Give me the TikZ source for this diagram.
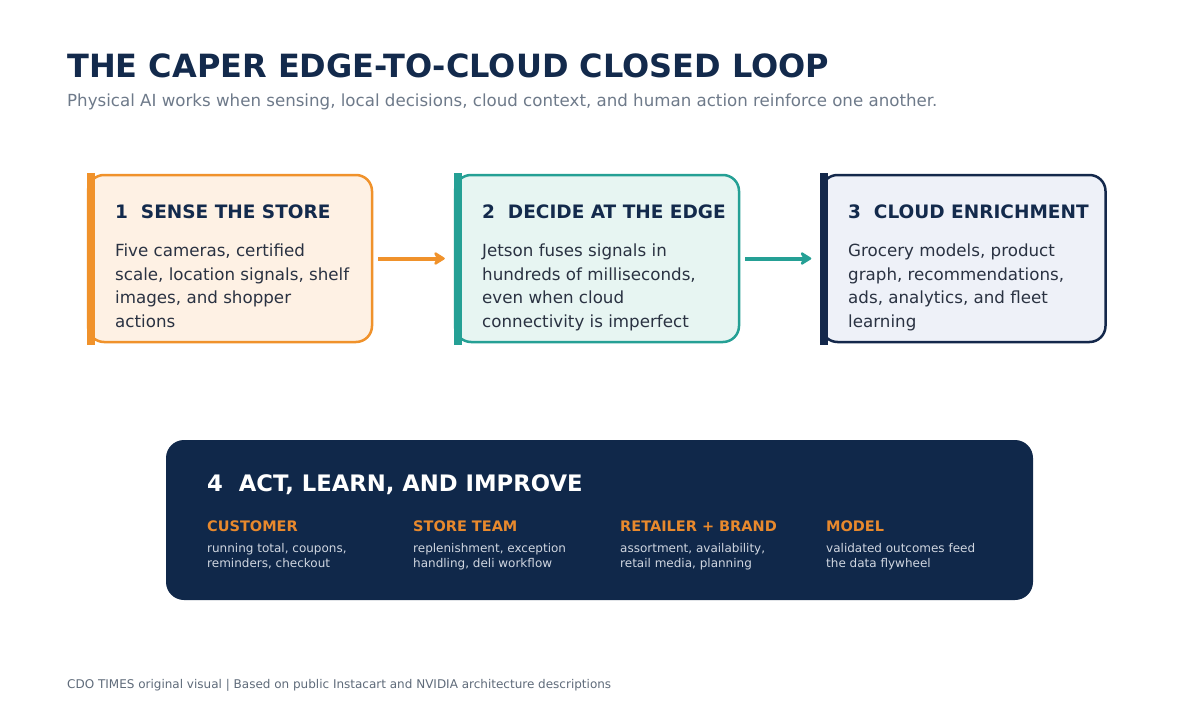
\documentclass[tikz,border=0pt]{standalone}
\usepackage{fontspec}
\setmainfont{DejaVu Sans}
\usetikzlibrary{arrows.meta}
\definecolor{baslikLaci}{HTML}{132A4C}
\definecolor{metinGri}{HTML}{6E7A8A}
\definecolor{notGri}{HTML}{5F6B7A}
\definecolor{yaziKoyu}{HTML}{2A3242}
\definecolor{vurguTuruncu}{HTML}{F0922B}
\definecolor{acikTuruncu}{HTML}{FEF1E4}
\definecolor{vurguTeal}{HTML}{25A095}
\definecolor{acikTeal}{HTML}{E7F5F2}
\definecolor{vurguLaci}{HTML}{14284B}
\definecolor{acikLaci}{HTML}{EEF1F8}
\definecolor{koyuZemin}{HTML}{10284A}
\definecolor{sutunTuruncu}{HTML}{E8892D}
\definecolor{sutunGri}{HTML}{D0D6E0}

\begin{document}
\begin{tikzpicture}[x=1pt,y=-1pt,
  asama/.style 2 args={draw=#1,fill=#2,line width=2.5pt,rounded corners=16pt,
               minimum width=284pt,minimum height=167pt,inner sep=0pt},
  kutuBaslik/.style={anchor=base west,inner sep=0pt,text=baslikLaci,
               font=\bfseries\fontsize{18.5}{22}\selectfont},
  kutuMetin/.style={anchor=base west,inner sep=0pt,align=left,text=yaziKoyu,
               font=\fontsize{16.7}{23.5}\selectfont},
  sutunBaslik/.style={anchor=base west,inner sep=0pt,text=sutunTuruncu,
               font=\bfseries\fontsize{14.5}{17}\selectfont},
  sutunMetin/.style={anchor=base west,inner sep=0pt,align=left,text=sutunGri,
               font=\fontsize{12}{15.5}\selectfont},
  ok/.style={-{Stealth[length=13pt,width=16pt,inset=4pt,round]},line width=4pt,#1,
             shorten <=5pt,shorten >=9pt}]
\useasboundingbox[fill=white] (0,0) rectangle (1200,720);
\node[anchor=base west,inner sep=0pt,text=baslikLaci,font=\bfseries\fontsize{32}{38}\selectfont]
  (baslik) at (67,77) {THE CAPER EDGE-TO-CLOUD CLOSED LOOP};
\node[anchor=base west,inner sep=0pt,text=metinGri,font=\fontsize{16.65}{19}\selectfont]
  (alt) at (67,106) {Physical AI works when sensing, local decisions, cloud context, and human action reinforce one another.};
\node[asama={vurguTuruncu}{acikTuruncu}] (sense) at (230,258.5) {};
\node[asama={vurguTeal}{acikTeal}] (decide) at (597,258.5) {};
\node[asama={vurguLaci}{acikLaci}] (cloud) at (963.5,258.5) {};
\fill[vurguTuruncu] ([yshift=1.25pt]sense.north west) rectangle ([xshift=8pt,yshift=-1.25pt]sense.south west);
\fill[vurguTeal] ([yshift=1.25pt]decide.north west) rectangle ([xshift=8pt,yshift=-1.25pt]decide.south west);
\fill[vurguLaci] ([yshift=1.25pt]cloud.north west) rectangle ([xshift=8pt,yshift=-1.25pt]cloud.south west);
\node[kutuBaslik] (senseB) at (115,218) {1\ \ SENSE THE STORE};
\node[kutuMetin] (senseM) at (115,327) {Five cameras, certified\\scale, location signals, shelf\\images, and shopper\\actions};
\node[kutuBaslik] (decideB) at (482,218) {2\ \ DECIDE AT THE EDGE};
\node[kutuMetin] (decideM) at (482,327) {Jetson fuses signals in\\hundreds of milliseconds,\\even when cloud\\connectivity is imperfect};
\node[kutuBaslik] (cloudB) at (848,218) {3\ \ CLOUD ENRICHMENT};
\node[kutuMetin] (cloudM) at (848,327) {Grocery models, product\\graph, recommendations,\\ads, analytics, and fleet\\learning};
\draw[ok=vurguTuruncu] (sense) -- (decide);
\draw[ok=vurguTeal] (decide) -- (cloud);
\node[fill=koyuZemin,rounded corners=18pt,minimum width=867pt,minimum height=160pt,inner sep=0pt]
  (act) at (599.5,520) {};
\node[anchor=base west,inner sep=0pt,text=white,font=\bfseries\fontsize{22.7}{26}\selectfont]
  (actB) at (207,491) {4\ \ ACT, LEARN, AND IMPROVE};
\node[sutunBaslik] (musteri) at (207,531) {CUSTOMER};
\node[sutunMetin] (musteriM) at (207,567.5) {running total, coupons,\\reminders, checkout};
\node[sutunBaslik] (ekip) at (413,531) {STORE TEAM};
\node[sutunMetin] (ekipM) at (413,567.5) {replenishment, exception\\handling, deli workflow};
\node[sutunBaslik] (marka) at (620,531) {RETAILER + BRAND};
\node[sutunMetin] (markaM) at (620,567.5) {assortment, availability,\\retail media, planning};
\node[sutunBaslik] (model) at (826,531) {MODEL};
\node[sutunMetin] (modelM) at (826,567.5) {validated outcomes feed\\the data flywheel};
\node[anchor=base west,inner sep=0pt,text=notGri,font=\fontsize{12}{14}\selectfont]
  (kaynak) at (67,688) {CDO TIMES original visual | Based on public Instacart and NVIDIA architecture descriptions};
\end{tikzpicture}
\end{document}
